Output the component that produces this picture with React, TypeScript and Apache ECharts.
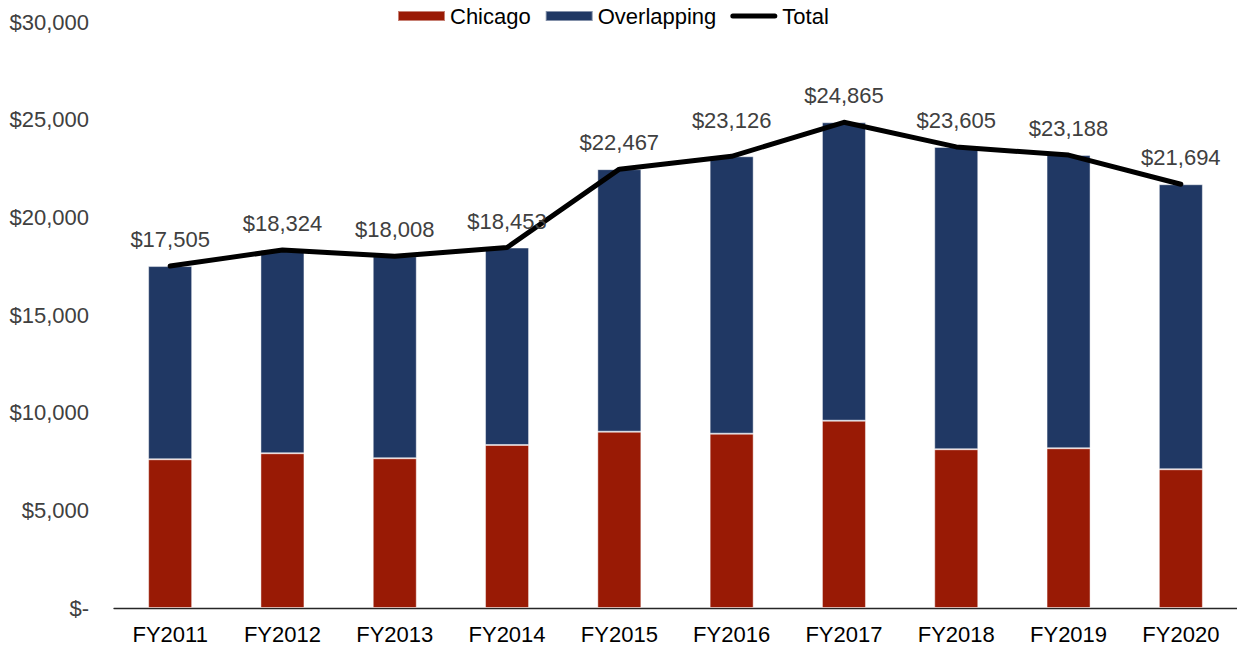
import React, { useEffect, useRef } from "react";
import * as echarts from "echarts";

const categories = ["FY2011", "FY2012", "FY2013", "FY2014", "FY2015", "FY2016", "FY2017", "FY2018", "FY2019", "FY2020"];
const totals = [17505, 18324, 18008, 18453, 22467, 23126, 24865, 23605, 23188, 21694];
const chicago = [7613, 7921, 7665, 8346, 9027, 8925, 9590, 8126, 8177, 7102];
const overlapping = totals.map((t, i) => t - chicago[i]);
const yTicks = [0, 5000, 10000, 15000, 20000, 25000, 30000];

const FONT = "'Liberation Sans', Arial, sans-serif";
const FS = 22;

export default function App() {
  const ref = useRef<HTMLDivElement>(null);
  useEffect(() => {
    if (!ref.current) return;
    const chart = echarts.init(ref.current, undefined, { renderer: "svg" });
    const fmt = (v: number) => (v === 0 ? "$-" : "$" + v.toLocaleString("en-US"));
    chart.setOption({
      animation: false,
      backgroundColor: "#ffffff",
      textStyle: { fontFamily: FONT },
      legend: {
        top: 0,
        left: 392,
        itemWidth: 47,
        itemHeight: 10,
        itemGap: 14,
        textStyle: { fontFamily: FONT, fontSize: FS, color: "#000000" },
        data: [
          { name: "Chicago", icon: "rect" },
          { name: "Overlapping", icon: "rect" },
          {
            name: "Total",
            icon: "path://M2.5,0 L44.5,0 A2.5,2.5 0 0 1 44.5,5 L2.5,5 A2.5,2.5 0 0 1 2.5,0 Z",
            itemStyle: { color: "#000000" },
          },
        ],
      },
      grid: { left: 114, top: 22, width: 1125, height: 586, containLabel: false },
      xAxis: {
        type: "category",
        data: categories,
        axisTick: { show: false },
        axisLine: { lineStyle: { color: "#262626", width: 1.3 } },
        axisLabel: { fontFamily: FONT, fontSize: FS, color: "#000000", margin: 15 },
      },
      yAxis: {
        type: "value",
        min: yTicks[0],
        max: yTicks[yTicks.length - 1],
        interval: yTicks[1] - yTicks[0],
        splitLine: { show: false },
        axisLine: { show: false },
        axisTick: { show: false },
        axisLabel: { fontFamily: FONT, fontSize: FS, color: "#404040", margin: 25, formatter: fmt },
      },
      series: [
        {
          name: "Chicago",
          type: "bar",
          stack: "t",
          barWidth: 44,
          data: chicago,
          itemStyle: { color: "#991a05", borderColor: "rgba(255,255,255,0.45)", borderWidth: 1 },
        },
        {
          name: "Overlapping",
          type: "bar",
          stack: "t",
          barWidth: 44,
          data: overlapping,
          itemStyle: { color: "#203864", borderColor: "rgba(255,255,255,0.45)", borderWidth: 1 },
        },
        {
          name: "Total",
          type: "line",
          data: totals.map((v, i) => (i === 5 ? { value: v, label: { offset: [0, -9] } } : v)),
          symbol: "circle",
          symbolSize: 1,
          showSymbol: true,
          itemStyle: { color: "#000000" },
          lineStyle: { color: "#000000", width: 5, cap: "round", join: "round" },
          label: {
            show: true,
            position: "top",
            distance: 15,
            fontFamily: FONT,
            fontSize: FS,
            color: "#404040",
            formatter: (p: any) => fmt(p.value),
          },
          z: 5,
        },
      ],
    });
    return () => chart.dispose();
  }, []);
  return <div ref={ref} style={{ position: "fixed", left: 0, top: 0, width: 1237, height: 649 }} />;
}
